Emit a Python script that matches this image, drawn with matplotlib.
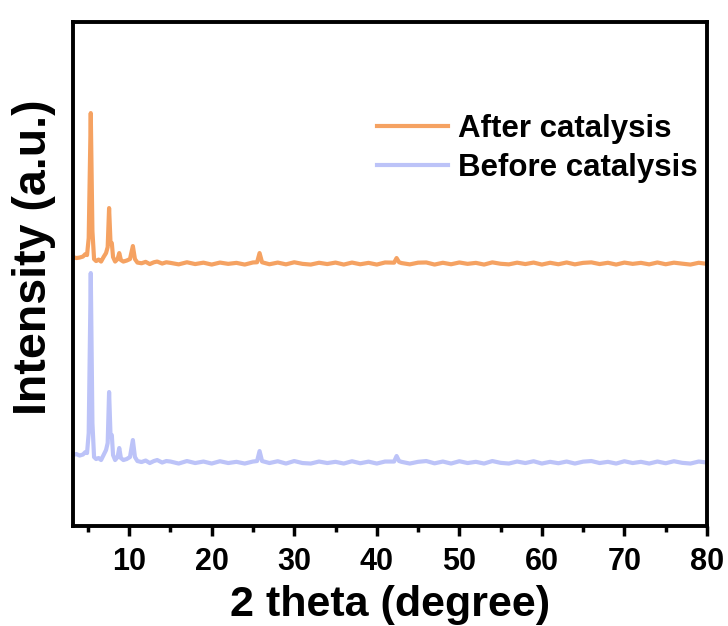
import matplotlib
matplotlib.use('Agg')
import matplotlib.pyplot as plt
from matplotlib.ticker import MultipleLocator

# 2 theta (degree) and relative intensity
x_before = [3.2, 3.6, 4.0, 4.4, 4.7, 4.9, 5.1, 5.35, 5.55, 5.75, 6.0, 6.3, 6.6, 6.9, 7.2, 7.4,
            7.57, 7.75, 7.9, 8.05, 8.3, 8.6, 8.8, 9.0, 9.3, 9.7, 10.1, 10.45, 10.7, 11.0, 11.5,
            12.0, 12.5, 13.0, 13.4, 14.0, 14.5,
            15, 16, 17, 18, 19, 20, 21, 22, 23, 24, 25, 25.5, 25.8, 26.1, 27, 28, 29, 30, 31,
            32, 33, 34, 35, 36, 37, 38, 39, 40, 41, 42.1, 42.4, 42.7, 43, 44, 45, 46, 47, 48,
            49, 50, 51, 52, 53, 54, 55, 56, 57, 58, 59, 60, 61, 62, 63, 64, 65, 66, 67, 68, 69,
            70, 71, 72, 73, 74, 75, 76, 77, 78, 79, 80]
y_before = [80, 90, 75, 85, 110, 100, 300, 1900, 400, 60, 40, 50, 30, 80, 130, 200,
            710, 260, 280, 80, 30, 60, 150, 50, 30, 40, 60, 230, 60, 20, 10,
            25, 0, 20, 30, 5, 20,
            15, -5, 20, 0, 15, -5, 18, 0, 12, -5, 15, 20, 120, 20, 0, 18, -5, 20, 0,
            -5, 15, 0, 12, -5, 18, -2, 14, -5, 15, 15, 70, 20, 12, -5, 12, 20, -3, 15,
            -5, 18, 0, 12, -5, 20, 2, -5, 15, 0, 18, -5, 12, -2, 15, -5, 14, 20, 0, 12, -5,
            18, 0, 12, -5, 15, -2, 18, 2, -5, 15, 5]

x_after = [3.2, 3.6, 4.0, 4.4, 4.7, 4.9, 5.1, 5.35, 5.55, 5.75, 6.0, 6.3, 6.6, 6.9, 7.2, 7.4,
           7.57, 7.75, 7.9, 8.05, 8.3, 8.6, 8.8, 9.0, 9.3, 9.7, 10.1, 10.45, 10.7, 11.0, 11.5,
           12.0, 12.5, 13.0, 13.4, 14.0, 14.5,
           15, 16, 17, 18, 19, 20, 21, 22, 23, 24, 25, 25.5, 25.8, 26.1, 27, 28, 29, 30, 31,
           32, 33, 34, 35, 36, 37, 38, 39, 40, 41, 42.1, 42.4, 42.7, 43, 44, 45, 46, 47, 48,
           49, 50, 51, 52, 53, 54, 55, 56, 57, 58, 59, 60, 61, 62, 63, 64, 65, 66, 67, 68, 69,
           70, 71, 72, 73, 74, 75, 76, 77, 78, 79, 80]
y_after = [70, 60, 65, 75, 100, 90, 260, 1510, 330, 50, 30, 45, 25, 70, 110, 170,
           560, 200, 210, 70, 25, 50, 110, 40, 25, 35, 50, 180, 50, 15, 8,
           22, 0, 18, 25, 5, 18,
           12, -3, 18, 0, 14, -5, 15, 2, 12, -5, 16, 18, 110, 18, -2, 15, -3, 18, 2,
           -5, 13, 0, 15, -5, 15, -2, 12, -5, 16, 14, 60, 18, 10, -3, 14, 16, -5, 13,
           -2, 16, 2, 12, -5, 17, 3, -3, 14, 0, 15, -5, 13, -2, 16, -3, 12, 17, 0, 13, -5,
           15, 2, 12, -3, 16, -2, 14, 4, -5, 13, 2]

offset_before = 630
offset_after = 2620

c_after = '#F5A262'
c_before = '#BCC3F8'

plt.rcParams['font.family'] = 'Liberation Sans'
plt.rcParams['font.weight'] = 'bold'

fig = plt.figure(figsize=(7.28, 6.26), dpi=100)
ax = fig.add_axes([0.1003, 0.1597, 0.8708, 0.805])

ax.plot(x_before, [v + offset_before for v in y_before], color=c_before, lw=3,
        label='Before catalysis', solid_joinstyle='round')
ax.plot(x_after, [v + offset_after for v in y_after], color=c_after, lw=3,
        label='After catalysis', solid_joinstyle='round')

ax.set_xlim(3.2, 80)
ax.set_ylim(0, 5040)
ax.set_yticks([])
ax.xaxis.set_major_locator(MultipleLocator(10))
ax.xaxis.set_minor_locator(MultipleLocator(5))
ax.set_xticks([10, 20, 30, 40, 50, 60, 70, 80])
ax.tick_params(axis='x', which='major', direction='out', length=7, width=2.5,
               labelsize=22, pad=8)
ax.tick_params(axis='x', which='minor', direction='out', length=4, width=2.5)
for lab in ax.get_xticklabels():
    lab.set_fontweight('bold')
for s in ax.spines.values():
    s.set_linewidth(2.8)

ax.set_xlabel('2 theta (degree)', fontsize=31, fontweight='bold', labelpad=6)
ax.set_ylabel('Intensity (a.u.)', fontsize=33.5, fontweight='bold')
ax.yaxis.set_label_coords(-0.027, 0.534)

handles, labels = ax.get_legend_handles_labels()
ax.legend(handles[::-1], labels[::-1], loc='upper right', bbox_to_anchor=(0.985, 0.818),
          frameon=False, handlelength=2.3, handletextpad=0.3,
          labelspacing=0.3, borderpad=0, borderaxespad=0,
          prop={'weight': 'bold', 'size': 22.5})

plt.savefig('out.png', dpi=100)
plt.close()
